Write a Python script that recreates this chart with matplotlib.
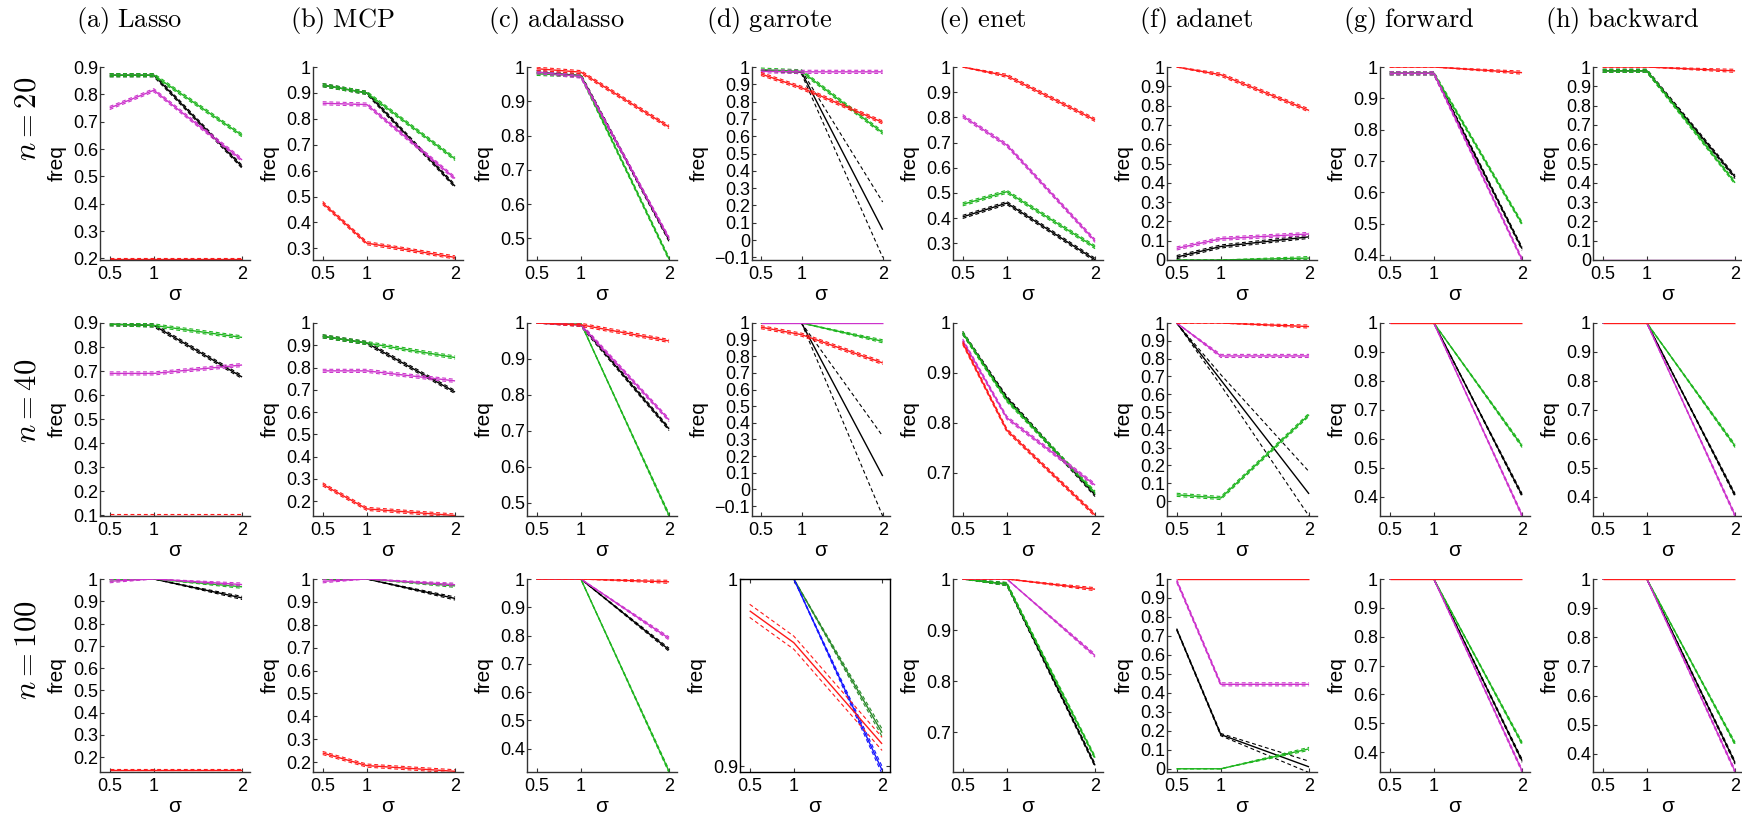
import numpy as np
import matplotlib
matplotlib.use('Agg')
import matplotlib.pyplot as plt

plt.rcParams['mathtext.fontset'] = 'cm'
plt.rcParams['font.family'] = ['Liberation Sans', 'DejaVu Sans']

# === data ===
sigma = [0.5, 1, 2]
methods = ['(a) Lasso', '(b) MCP', '(c) adalasso', '(d) garrote',
           '(e) enet', '(f) adanet', '(g) forward', '(h) backward']
sizes = [20, 40, 100]

# n = 20
black_20 = [[0.87, 0.87, 0.535], [0.93, 0.90, 0.54], [0.985, 0.975, 0.495], [0.98, 0.97, 0.06],
            [0.405, 0.46, 0.235], [0.015, 0.07, 0.12], [0.98, 0.98, 0.42], [0.98, 0.98, 0.43]]
green_20 = [[0.87, 0.87, 0.65], [0.93, 0.90, 0.645], [0.98, 0.975, 0.44], [0.985, 0.975, 0.62],
            [0.455, 0.505, 0.285], [0.0, 0.0, 0.01], [0.98, 0.98, 0.50], [0.98, 0.98, 0.40]]
magenta_20 = [[0.75, 0.815, 0.56], [0.86, 0.855, 0.57], [0.985, 0.972, 0.50], [0.975, 0.972, 0.972],
              [0.805, 0.69, 0.31], [0.06, 0.11, 0.135], [0.98, 0.98, 0.385], [0.0, 0.0, 0.0]]
red_20 = [[0.197, 0.197, 0.197], [0.475, 0.32, 0.265], [0.995, 0.985, 0.825], [0.96, 0.88, 0.68],
          [1.0, 0.965, 0.79], [1.0, 0.96, 0.775], [1.0, 1.0, 0.982], [1.0, 1.0, 0.98]]
ylo_20 = [0.194, 0.255, 0.437, -0.115, 0.234, 0.0, 0.384, 0.0]
yhi_20 = [0.9, 1, 1, 1, 1, 1, 1, 1]

# n = 40
black_40 = [[0.895, 0.89, 0.675], [0.94, 0.91, 0.69], [1.0, 0.995, 0.705], [1.0, 1.0, 0.08],
            [0.98, 0.85, 0.655], [1.0, 0.68, 0.04], [1.0, 1.0, 0.405], [1.0, 1.0, 0.405]]
green_40 = [[0.895, 0.89, 0.84], [0.94, 0.91, 0.845], [1.0, 1.0, 0.465], [1.0, 1.0, 0.89],
            [0.98, 0.845, 0.66], [0.035, 0.017, 0.485], [1.0, 1.0, 0.575], [1.0, 1.0, 0.575]]
magenta_40 = [[0.69, 0.69, 0.725], [0.785, 0.785, 0.74], [1.0, 0.995, 0.73], [1.0, 1.0, 1.0],
              [0.965, 0.81, 0.675], [1.0, 0.815, 0.815], [1.0, 1.0, 0.335], [1.0, 1.0, 0.335]]
red_40 = [[0.097, 0.097, 0.097], [0.275, 0.165, 0.135], [1.0, 0.995, 0.95], [0.975, 0.93, 0.76],
          [0.96, 0.785, 0.615], [1.0, 1.0, 0.98], [1.0, 1.0, 1.0], [1.0, 1.0, 1.0]]
ylo_40 = [0.096, 0.133, 0.463, -0.16, 0.613, -0.084, 0.333, 0.333]
yhi_40 = [0.9, 1, 1, 1, 1, 1, 1, 1]

# n = 100 (garrote panel has its own series)
black_100 = [[1.0, 1.0, 0.915], [1.0, 1.0, 0.915], [1.0, 1.0, 0.75], None,
             [1.0, 0.99, 0.635], [0.735, 0.18, 0.01], [1.0, 1.0, 0.37], [1.0, 1.0, 0.37]]
green_100 = [[0.997, 1.0, 0.965], [1.0, 1.0, 0.97], [1.0, 1.0, 0.32], None,
             [1.0, 0.99, 0.65], [0.0, 0.0, 0.105], [1.0, 1.0, 0.43], [1.0, 1.0, 0.435]]
magenta_100 = [[0.99, 1.0, 0.975], [0.99, 1.0, 0.975], [1.0, 1.0, 0.79], None,
               [1.0, 1.0, 0.85], [0.99, 0.445, 0.445], [1.0, 1.0, 0.335], [1.0, 1.0, 0.34]]
red_100 = [[0.14, 0.14, 0.14], [0.24, 0.185, 0.16], [1.0, 1.0, 0.99], [0.983, 0.966, 0.912],
           [1.0, 1.0, 0.98], [1.0, 1.0, 1.0], [1.0, 1.0, 1.0], [1.0, 1.0, 1.0]]
garrote100_green = [1.0, 1.0, 0.918]
garrote100_blue = [1.0, 1.0, 0.898]
ylo_100 = [0.133, 0.157, 0.318, 0.897, 0.622, -0.017, 0.331, 0.338]
yhi_100 = [1, 1, 1, 1, 1, 1, 1, 1]

# wide confidence bands (half widths)
band_garrote20_black = [0.0, 0.01, 0.16]
band_garrote40_black = [0.0, 0.0, 0.24]
band_adanet40_black = [0.0, 0.03, 0.125]
band_adanet100_black = [0.004, 0.006, 0.03]
band_garrote100_red = [0.0035, 0.0035, 0.0035]
band_garrote100_lines = [0.0, 0.0, 0.002]

blacks = [black_20, black_40, black_100]
greens = [green_20, green_40, green_100]
magentas = [magenta_20, magenta_40, magenta_100]
reds = [red_20, red_40, red_100]
ylos = [ylo_20, ylo_40, ylo_100]
yhis = [yhi_20, yhi_40, yhi_100]
special_bands = {(0, 3, 'k'): band_garrote20_black, (1, 3, 'k'): band_garrote40_black,
                 (1, 5, 'k'): band_adanet40_black, (2, 5, 'k'): band_adanet100_black,
                 (2, 3, 'r'): band_garrote100_red}

# === layout ===
W, H = 1742, 819
fig = plt.figure(figsize=(W / 100, H / 100), dpi=100)
col_left = [100, 313, 527, 740, 953, 1167, 1380, 1593]
row_top = [67, 323, 579]
row_label_y = [119, 401, 650]
AX_W, AX_H = 150, 193

GREEN = '#1fb51f'
MAGENTA = '#cc33cc'
RED = '#ff1a1a'


def fx(x):
    return x / W


def fy(y):
    return 1 - y / H


def fmt(v):
    v = round(v, 1)
    if abs(v - round(v)) < 1e-9:
        s = str(int(round(v)))
    else:
        s = '%g' % v
    return s.replace('-', '\u2212')


def draw(ax, y, color, band, lw=1.0):
    y = np.array(y, dtype=float)
    ax.plot(sigma, y, color=color, lw=lw, solid_capstyle='butt')
    band = np.array(band, dtype=float)
    if np.any(band > 0):
        for s in (1, -1):
            ax.plot(sigma, y + s * band, color=color, lw=0.8, ls=(0, (3.5, 2.5)))


for r in range(3):
    for c in range(8):
        left, width = col_left[c], AX_W
        if c == 3 and r < 2:
            left, width = 752, 138
        top = row_top[r]
        ax = fig.add_axes([fx(left), fy(top + AX_H), width / W, AX_H / H])
        lo, hi = ylos[r][c], yhis[r][c]
        span = hi - lo

        def auto_band(y):
            y = np.array(y)
            return np.where((y > 0.001) & (y < 0.999), 0.008 * span, 0.0)

        series = [(blacks[r][c], 'k'), (greens[r][c], GREEN),
                  (magentas[r][c], MAGENTA), (reds[r][c], RED)]
        if r == 2 and c == 3:
            series = [(garrote100_green, '#2a8a2a'), (garrote100_blue, '#1515ff'),
                      (reds[r][c], RED)]
        for y, col in series:
            if y is None:
                continue
            key = 'k' if col == 'k' else ('r' if col == RED else 'x')
            b = special_bands.get((r, c, key))
            if b is None:
                b = band_garrote100_lines if (r == 2 and c == 3) else auto_band(y)
            draw(ax, y, col, b)

        ax.set_xlim(0.39, 2.09)
        ax.set_ylim(lo, hi)
        ax.set_xticks(sigma)
        ax.set_xticklabels(['0.5', '1', '2'])
        ticks = np.arange(np.ceil(lo * 10 - 1e-9), np.floor(hi * 10 + 1e-9) + 1) / 10
        ax.set_yticks(ticks)
        ax.set_yticklabels([fmt(t) for t in ticks])
        ax.tick_params(direction='in', length=3, width=0.8, labelsize=13,
                       colors='#333333', labelcolor='black')
        ax.tick_params(axis='x', pad=4)
        ax.tick_params(axis='y', pad=1.5)
        boxed = (r == 2 and c == 3)
        for name, sp in ax.spines.items():
            sp.set_color('#333333' if not boxed else 'black')
            sp.set_linewidth(1.0)
            if name in ('top', 'right') and not boxed:
                sp.set_visible(False)
        if boxed:
            ax.tick_params(top=True, right=True)
        ax.set_ylabel('freq', fontsize=15, labelpad=4)
        fig.text(fx(left + width / 2), fy(top + AX_H + 35), '\u03c3', fontsize=15,
                 ha='center', va='center')

for c in range(8):
    name = methods[c].replace(' ', r'\ ')
    fig.text(fx(col_left[c] + 29), fy(20), r'$\mathrm{' + name + '}$', fontsize=19,
             ha='center', va='center')

for r in range(3):
    fig.text(fx(28), fy(row_label_y[r]), r'$n = %d$' % sizes[r], fontsize=22,
             rotation=90, ha='center', va='center')

fig.savefig('out.png', dpi=100)
